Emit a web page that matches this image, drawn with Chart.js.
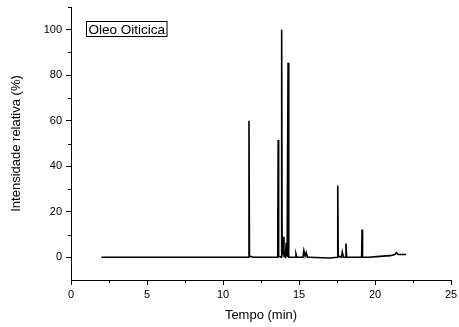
<!DOCTYPE html>
<html>
<head>
<meta charset="utf-8">
<script src="https://cdn.jsdelivr.net/npm/chart.js@4"></script>
<style>
  body { margin: 0; background: #fff; }
</style>
</head>
<body>
<canvas id="cromatograma" width="459" height="327"></canvas>
<script>
var tempo = [
    2.00, 11.68, 11.71, 11.74, 12.00,
    13.60, 13.63, 13.66, 13.83, 13.86, 13.89, 13.96, 14.01,
    14.10, 14.16, 14.22, 14.28, 14.31, 14.34,
    14.75, 14.80, 14.86, 15.26, 15.32, 15.40, 15.48, 15.55, 15.65,
    17.00, 17.52, 17.55, 17.58, 17.78, 17.85, 17.92, 18.05, 18.09, 18.13,
    19.12, 19.15, 19.18, 19.60, 20.30, 21.00, 21.30, 21.42, 21.52, 22.05
];
var intensidade = [
    0, 0, 60, 0.5, 0,
    0, 51.5, 0.5, 0, 100, 1, 9, 0.5,
    0, 6.5, 0, 85.5, 0.5, 0,
    0, 1.5, 0, 0, 3, 0.5, 2, 0, 0,
    -0.3, 0, 31.5, 0.5, 0, 2.3, 0, 0, 6, 0,
    0, 12.2, 0, 0, 0.4, 0.7, 1.2, 2, 1.2, 1.2
];
var xTicks = [0, 5, 10, 15, 20, 25];
var yTicks = [0, 20, 40, 60, 80, 100];
var xMinor = [2.5, 7.5, 12.5, 17.5, 22.5];
var yMinor = [10, 30, 50, 70, 90, 110];
var legenda = 'Oleo Oiticica';

var pontos = tempo.map(function (t, i) { return { x: t, y: intensidade[i] }; });
var fonte = '"Liberation Sans", Arial, sans-serif';

// pequenos ticks menores + caixa com o nome da amostra
var extras = {
    id: 'extras',
    afterDraw: function (chart) {
        var c = chart.ctx, a = chart.chartArea;
        var sx = chart.scales.x, sy = chart.scales.y;
        c.save();
        c.strokeStyle = '#000';
        c.lineWidth = 1;
        c.beginPath();
        xMinor.forEach(function (v) {
            var px = Math.round(sx.getPixelForValue(v)) + 0.5;
            c.moveTo(px, a.bottom); c.lineTo(px, a.bottom + 3);
        });
        yMinor.forEach(function (v) {
            var py = Math.round(sy.getPixelForValue(v)) + 0.5;
            c.moveTo(a.left, py); c.lineTo(a.left - 3, py);
        });
        c.stroke();

        c.font = '13.5px ' + fonte;
        c.fillStyle = '#000';
        var w = c.measureText(legenda).width;
        var bx = a.left + 15.5, by = a.top + 14.5;
        c.strokeRect(bx, by, w + 4, 15);
        c.textBaseline = 'alphabetic';
        c.fillText(legenda, bx + 2, by + 12);
        c.restore();
    }
};

var ctx = document.getElementById('cromatograma').getContext('2d');
var chart = new Chart(ctx, {
    type: 'line',
    data: {
        datasets: [{
            data: pontos,
            borderColor: '#000',
            borderWidth: 1.6,
            pointRadius: 0,
            tension: 0,
            fill: false
        }]
    },
    options: {
        responsive: false,
        animation: false,
        layout: { padding: { top: 7, right: 8, left: 0, bottom: 0 } },
        plugins: { legend: { display: false }, tooltip: { enabled: false } },
        scales: {
            x: {
                type: 'linear',
                min: 0,
                max: 25,
                afterBuildTicks: function (s) { s.ticks = xTicks.map(function (v) { return { value: v }; }); },
                afterFit: function (s) { s.height = 47; s.paddingLeft = 0; s.paddingRight = 0; },
                grid: { drawOnChartArea: false, tickLength: 5, tickColor: '#000' },
                border: { color: '#000', width: 1 },
                ticks: { color: '#000', font: { family: fonte, size: 11 }, padding: 3, maxRotation: 0 },
                title: {
                    display: true,
                    text: 'Tempo (min)',
                    color: '#000',
                    font: { family: fonte, size: 13 },
                    padding: { top: 0, bottom: 4 }
                }
            },
            y: {
                min: -10,
                max: 110,
                afterBuildTicks: function (s) { s.ticks = yTicks.map(function (v) { return { value: v }; }); },
                afterFit: function (s) { s.width = 71; s.paddingTop = 0; s.paddingBottom = 0; },
                grid: { drawOnChartArea: false, tickLength: 5, tickColor: '#000' },
                border: { color: '#000', width: 1 },
                ticks: { color: '#000', font: { family: fonte, size: 11 }, padding: 4 },
                title: {
                    display: true,
                    text: 'Intensidade relativa (%)',
                    color: '#000',
                    font: { family: fonte, size: 13 },
                    padding: { top: 9, bottom: 0 }
                }
            }
        }
    },
    plugins: [extras]
});
</script>
</body>
</html>
